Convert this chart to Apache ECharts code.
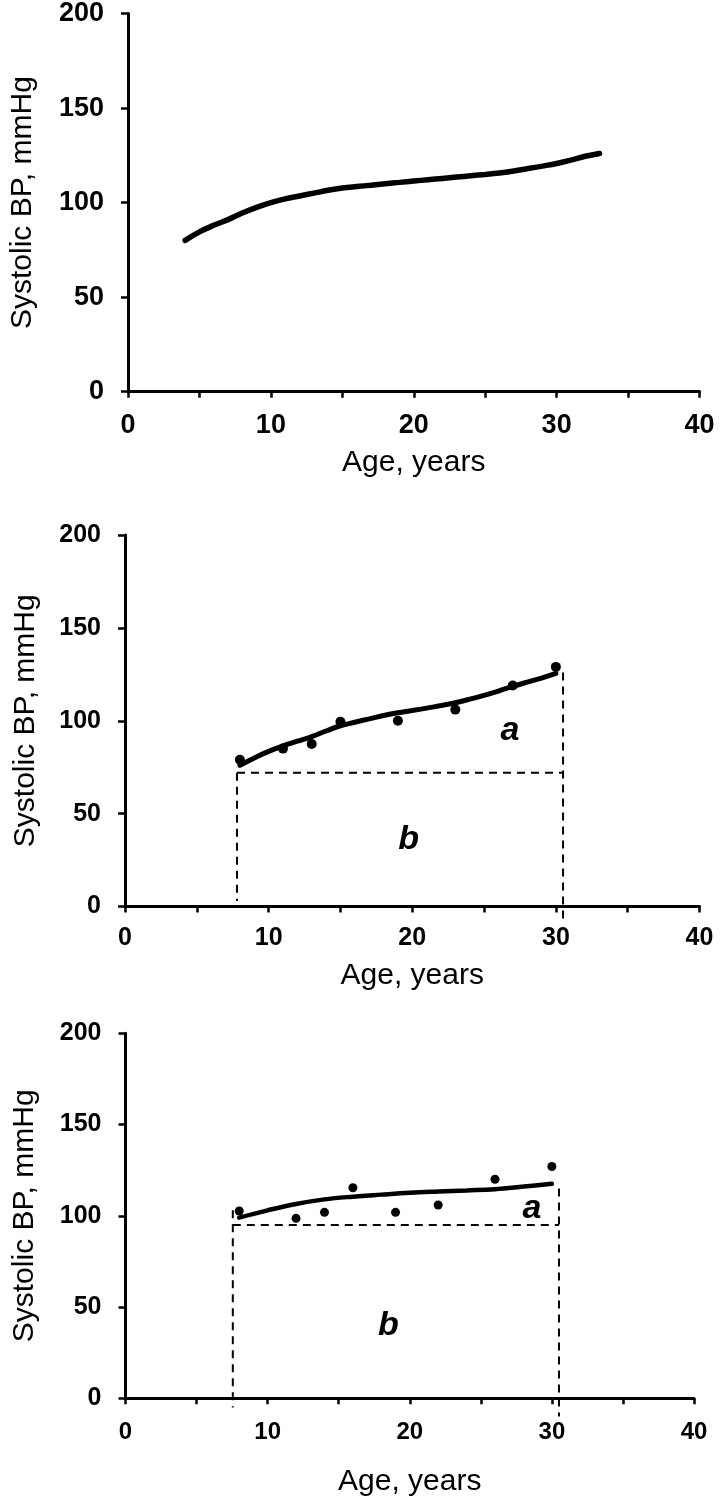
<!DOCTYPE html>
<html>
<head>
<meta charset="utf-8">
<script src="https://cdn.jsdelivr.net/npm/echarts@6/dist/echarts.min.js"></script>
<style>
html,body{margin:0;padding:0;background:#fff;}
#chart{width:720px;height:1498px;}
</style>
</head>
<body>
<div id="chart"></div>
<script>
// ---- Data ----
const xTicks = [0, 10, 20, 30, 40];
const yTicks = [0, 50, 100, 150, 200];

// Panel 1: smooth curve
const p1Age = [4,5,6,7,8,9,10,11,12,13,14,15,16,17,18,19,20,21,22,23,24,25,26,27,28,29,30,31,32,33];
const p1BP  = [80,84.5,88,91,94.5,97.5,100,102,103.5,105,106.5,107.7,108.5,109.2,110,110.7,111.4,112.1,112.8,113.5,114.2,114.9,115.7,116.7,118,119.3,120.7,122.5,124.5,126];

// Panel 2: fitted line + observations
const p2FitAge = [8,9,10,11,12,13,14,15,16,17,18,19,20,21,22,23,24,25,26,27,28,29,30];
const p2FitBP  = [76,80,83.5,86.5,89,91.5,94.5,97.3,99.2,101,102.8,104.3,105.5,106.8,108.2,109.7,111.6,113.7,116,118.5,120.8,123,125.5];
const p2ObsAge = [8,11,13,15,19,23,27,30];
const p2ObsBP  = [79,85,87.5,99.5,100,106,119,129];
const p2DashH = [[7.8,72],[30.5,72]];
const p2DashL = [[7.8,72],[7.8,3]];
const p2DashR = [[30.5,126],[30.5,-7]];
const p2Labels = [["a",26.8,94.5],["b",19.75,35.8]];

// Panel 3: fitted line + observations
const p3FitAge = [8,10,12,14,16,18,20,22,24,26,28,30];
const p3FitBP  = [99,103,106.5,109,110.5,111.6,112.6,113.3,113.9,114.6,116,117.5];
const p3ObsAge = [8,12,14,16,19,22,26,30];
const p3ObsBP  = [102.6,98.6,101.9,115.4,101.9,105.9,120,127];
const p3DashH = [[7.55,95],[30.5,95]];
const p3DashL = [[7.55,103],[7.55,-5]];
const p3DashR = [[30.5,115],[30.5,-10]];
const p3Labels = [["a",28.6,104],["b",18.5,40]];

const FONT = '"Liberation Sans", Arial, sans-serif';
const zip = (a, b) => a.map((v, i) => [v, b[i]]);

function xAxisCfg(idx, fs, margin, nameGap) {
  return {
    gridIndex: idx, type: 'value', min: 0, max: 40, interval: 5,
    name: 'Age, years', nameLocation: 'middle', nameGap: nameGap,
    nameTextStyle: {fontFamily: FONT, fontSize: 30, color: '#000'},
    axisLine: {show: true, onZero: false, lineStyle: {color: '#000', width: 3}},
    axisTick: {show: true, inside: false, length: 6, lineStyle: {color: '#000', width: 2.5}},
    axisLabel: {
      margin: margin, fontFamily: FONT, fontWeight: 'bold', fontSize: fs, color: '#000',
      formatter: v => (xTicks.indexOf(v) >= 0 ? String(v) : '')
    },
    splitLine: {show: false}
  };
}
function yAxisCfg(idx, fs, nameGap) {
  return {
    gridIndex: idx, type: 'value', min: 0, max: 200, interval: 50,
    name: 'Systolic BP, mmHg', nameLocation: 'middle', nameGap: nameGap, nameRotate: 90,
    nameTextStyle: {fontFamily: FONT, fontSize: 30, color: '#000'},
    axisLine: {show: true, onZero: false, lineStyle: {color: '#000', width: 3}},
    axisTick: {show: true, inside: false, length: 7, lineStyle: {color: '#000', width: 2.5}},
    axisLabel: {
      margin: 24, fontFamily: FONT, fontWeight: 'bold', fontSize: fs, color: '#000',
      formatter: v => (yTicks.indexOf(v) >= 0 ? String(v) : '')
    },
    splitLine: {show: false}
  };
}
function lineSeries(idx, data, width) {
  return {type: 'line', xAxisIndex: idx, yAxisIndex: idx, data: data, smooth: 0.4,
    showSymbol: false, symbol: 'none', lineStyle: {color: '#000', width: width, cap: 'round', opacity: 1},
    silent: true, animation: false, z: 3};
}
function dotSeries(idx, data, size) {
  return {type: 'scatter', xAxisIndex: idx, yAxisIndex: idx, data: data, symbol: 'circle',
    symbolSize: size, itemStyle: {color: '#000', opacity: 1}, silent: true, animation: false, z: 4};
}
function dashSeries(idx, data) {
  return {type: 'line', xAxisIndex: idx, yAxisIndex: idx, data: data, clip: false,
    showSymbol: false, symbol: 'none', lineStyle: {color: '#000', width: 2, type: [8, 6], opacity: 1},
    silent: true, animation: false, z: 2};
}
function textSeries(idx, labels) {
  return {type: 'scatter', xAxisIndex: idx, yAxisIndex: idx,
    data: labels.map(l => ({name: l[0], value: [l[1], l[2]]})),
    symbolSize: 0, silent: true, animation: false, z: 5,
    itemStyle: {opacity: 1, color: '#000'},
    label: {show: true, position: 'inside', formatter: p => p.name, opacity: 1,
      fontFamily: FONT, fontWeight: 'bold', fontStyle: 'italic', fontSize: 34, color: '#000',
      textBorderWidth: 0}};
}

const chart = echarts.init(document.getElementById('chart'), null, {renderer: 'canvas'});
chart.setOption({
  backgroundColor: '#fff',
  animation: false,
  grid: [
    {left: 125, right: 20.5, top: 13, height: 378.7},
    {left: 125, right: 20.5, top: 535, height: 371.5},
    {left: 125.5, right: 26, top: 1033.3, height: 365}
  ],
  xAxis: [xAxisCfg(0, 27, 20, 56), xAxisCfg(1, 25, 19, 54), xAxisCfg(2, 24, 22, 68)],
  yAxis: [yAxisCfg(0, 27, 90), yAxisCfg(1, 25, 84), yAxisCfg(2, 25, 86)],
  series: [
    lineSeries(0, zip(p1Age, p1BP), 5.5),
    dashSeries(1, p2DashH), dashSeries(1, p2DashL), dashSeries(1, p2DashR),
    lineSeries(1, zip(p2FitAge, p2FitBP), 5),
    dotSeries(1, zip(p2ObsAge, p2ObsBP), 10),
    textSeries(1, p2Labels),
    dashSeries(2, p3DashH), dashSeries(2, p3DashL), dashSeries(2, p3DashR),
    lineSeries(2, zip(p3FitAge, p3FitBP), 4.5),
    dotSeries(2, zip(p3ObsAge, p3ObsBP), 9),
    textSeries(2, p3Labels)
  ]
});
</script>
</body>
</html>
